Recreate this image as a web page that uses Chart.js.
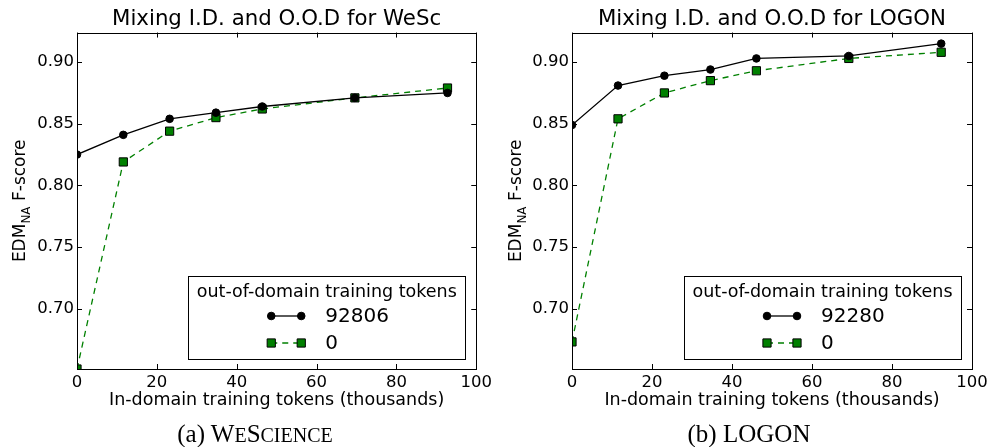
<!DOCTYPE html>
<html>
<head>
<meta charset="utf-8">
<script src="https://cdn.jsdelivr.net/npm/chart.js@4.4.1/dist/chart.umd.min.js"></script>
<style>
  body { margin: 0; background: #fff; }
  #wrap { position: relative; width: 992px; height: 447px; overflow: hidden; }
  canvas { position: absolute; top: 0; }
  .caption {
    position: absolute; top: 419px; width: 300px; text-align: center;
    font-family: "Liberation Serif", serif; font-size: 25px;
    color: #000; line-height: 30px;
  }
  .sc { text-transform: uppercase; font-size: 0.8em; }
</style>
</head>
<body>
<div id="wrap">
  <canvas id="wesc" width="496" height="447" style="left:0"></canvas>
  <canvas id="logon" width="496" height="447" style="left:496px"></canvas>
  <div class="caption" style="left:105px">(a) W<span class="sc">e</span>S<span class="sc">cience</span></div>
  <div class="caption" style="left:599px">(b) LOGON</div>
</div>
<script>
// --- Data ---
const xTicks = [0, 20, 40, 60, 80, 100];
const yTicks = [0.70, 0.75, 0.80, 0.85, 0.90];

// in-domain training tokens (thousands)
const wescTokens = [0, 11.6, 23.2, 34.8, 46.4, 69.6, 92.8];
const wescMixed = [0.825, 0.841, 0.854, 0.859, 0.864, 0.871, 0.875];   // + 92806 OOD tokens
const wescInOnly = [0.651, 0.819, 0.844, 0.855, 0.862, 0.871, 0.879];  // + 0 OOD tokens

const logonTokens = [0, 11.5, 23.1, 34.6, 46.1, 69.2, 92.3];
const logonMixed = [0.849, 0.881, 0.889, 0.894, 0.903, 0.905, 0.915];  // + 92280 OOD tokens
const logonInOnly = [0.673, 0.854, 0.875, 0.885, 0.893, 0.903, 0.908]; // + 0 OOD tokens

const FONT = '"DejaVu Sans", sans-serif';

// axes frame + inward ticks on all four sides (matplotlib look)
const framePlugin = {
    id: 'frame',
    afterDatasetsDraw(chart) {
        const { ctx, chartArea: ca, scales } = chart;
        ctx.save();
        ctx.strokeStyle = '#000';
        ctx.lineWidth = 1;
        ctx.beginPath();
        xTicks.forEach(v => {
            const px = Math.round(scales.x.getPixelForValue(v)) + 0.5;
            ctx.moveTo(px, ca.bottom); ctx.lineTo(px, ca.bottom - 5);
            ctx.moveTo(px, ca.top); ctx.lineTo(px, ca.top + 5);
        });
        yTicks.forEach(v => {
            const py = Math.round(scales.y.getPixelForValue(v)) + 0.5;
            ctx.moveTo(ca.left, py); ctx.lineTo(ca.left + 5, py);
            ctx.moveTo(ca.right, py); ctx.lineTo(ca.right - 5, py);
        });
        ctx.stroke();
        ctx.strokeRect(Math.round(ca.left) + 0.5, Math.round(ca.top) + 0.5,
            Math.round(ca.right - ca.left), Math.round(ca.bottom - ca.top));
        ctx.restore();
    }
};

// y label with subscript: EDM_NA F-score
const yLabelPlugin = {
    id: 'ylabel',
    afterDraw(chart) {
        const { ctx, chartArea: ca } = chart;
        const parts = [['EDM', 17, 0], ['NA', 12, 5], ['\u00a0F-score', 17, 0]];
        ctx.save();
        ctx.fillStyle = '#000';
        ctx.textBaseline = 'alphabetic';
        let total = 0;
        parts.forEach(p => { ctx.font = p[1] + 'px ' + FONT; total += ctx.measureText(p[0]).width; });
        ctx.translate(25, (ca.top + ca.bottom) / 2);
        ctx.rotate(-Math.PI / 2);
        let x = -total / 2;
        parts.forEach(p => {
            ctx.font = p[1] + 'px ' + FONT;
            ctx.fillText(p[0], x, p[2]);
            x += ctx.measureText(p[0]).width;
        });
        ctx.restore();
    }
};

// boxed legend in lower right, with title
const legendPlugin = {
    id: 'boxLegend',
    afterDraw(chart, args, opts) {
        const { ctx, chartArea: ca } = chart;
        const w = 277, h = 83;
        const left = ca.right - 11 - w, top = ca.bottom - 10 - h;
        ctx.save();
        ctx.fillStyle = '#fff';
        ctx.fillRect(left, top, w, h);
        ctx.strokeStyle = '#000';
        ctx.lineWidth = 1;
        ctx.strokeRect(Math.round(left) + 0.5, Math.round(top) + 0.5, w, h);
        ctx.fillStyle = '#000';
        ctx.font = '17.5px ' + FONT;
        ctx.textAlign = 'center';
        ctx.textBaseline = 'middle';
        ctx.fillText(opts.title, left + w / 2, top + 16);
        chart.data.datasets.forEach((ds, i) => {
            const y = top + 40 + i * 27;
            const x0 = left + 83, x1 = left + 113;
            ctx.strokeStyle = ds.borderColor;
            ctx.lineWidth = ds.borderWidth;
            ctx.setLineDash(ds.borderDash || []);
            ctx.beginPath();
            ctx.moveTo(x0, y); ctx.lineTo(x1, y);
            ctx.stroke();
            ctx.setLineDash([]);
            [x0, x1].forEach(mx => {
                ctx.fillStyle = ds.pointBackgroundColor;
                ctx.strokeStyle = ds.pointBorderColor;
                ctx.lineWidth = 1;
                ctx.beginPath();
                if (ds.pointStyle === 'rect') {
                    const s = ds.pointRadius * Math.SQRT1_2;
                    ctx.rect(mx - s, y - s, 2 * s, 2 * s);
                } else {
                    ctx.arc(mx, y, ds.pointRadius, 0, Math.PI * 2);
                }
                ctx.fill();
                ctx.stroke();
            });
            ctx.fillStyle = '#000';
            ctx.font = '20px ' + FONT;
            ctx.textAlign = 'left';
            ctx.fillText(ds.label, left + 137, y + 1);
        });
        ctx.restore();
    }
};

function makeChart(id, title, tokens, mixed, inOnly, labels, areaLeft, areaRight) {
    const ctx = document.getElementById(id).getContext('2d');
    return new Chart(ctx, {
        type: 'line',
        data: {
            datasets: [{
                label: labels[0],
                data: tokens.map((t, i) => ({ x: t, y: mixed[i] })),
                borderColor: '#000',
                borderWidth: 1.3,
                pointStyle: 'circle',
                pointRadius: 3.8,
                pointBackgroundColor: '#000',
                pointBorderColor: '#000',
                pointBorderWidth: 1,
                tension: 0,
                clip: 0
            }, {
                label: labels[1],
                data: tokens.map((t, i) => ({ x: t, y: inOnly[i] })),
                borderColor: '#008000',
                borderWidth: 1.3,
                borderDash: [6, 5],
                pointStyle: 'rect',
                pointRadius: 5.8,
                pointBackgroundColor: '#008000',
                pointBorderColor: '#000',
                pointBorderWidth: 1,
                tension: 0,
                clip: 0
            }]
        },
        options: {
            responsive: false,
            animation: false,
            devicePixelRatio: 1,
            layout: { padding: { left: 0, top: 0, right: 496 - areaRight, bottom: 0 } },
            plugins: {
                legend: { display: false },
                tooltip: { enabled: false },
                title: {
                    display: true,
                    text: title,
                    fullSize: false,
                    color: '#000',
                    font: { family: FONT, size: 21.3, weight: 'normal' },
                    padding: { top: 7, bottom: 0 }
                },
                boxLegend: { title: 'out-of-domain training tokens' }
            },
            scales: {
                x: {
                    type: 'linear',
                    min: 0,
                    max: 100,
                    afterBuildTicks: s => { s.ticks = xTicks.map(v => ({ value: v })); },
                    afterFit: s => { s.height = 447 - 369; },
                    grid: { display: false, drawTicks: false, tickLength: 0 },
                    border: { display: false },
                    ticks: { color: '#000', font: { family: FONT, size: 16.5 }, padding: 4, maxRotation: 0, autoSkip: false },
                    title: {
                        display: true,
                        text: 'In-domain training tokens (thousands)',
                        color: '#000',
                        font: { family: FONT, size: 17.5 },
                        padding: { top: 0, bottom: 36 }
                    }
                },
                y: {
                    type: 'linear',
                    min: 0.651,
                    max: 0.924,
                    afterBuildTicks: s => { s.ticks = yTicks.map(v => ({ value: v })); },
                    afterFit: s => { s.width = areaLeft; },
                    grid: { display: false, drawTicks: false, tickLength: 0 },
                    border: { display: false },
                    ticks: { color: '#000', font: { family: FONT, size: 16.5 }, padding: 3, callback: v => v.toFixed(2) }
                }
            }
        },
        plugins: [framePlugin, yLabelPlugin, legendPlugin]
    });
}

makeChart('wesc', 'Mixing I.D. and O.O.D for WeSc', wescTokens, wescMixed, wescInOnly, ['92806', '0'], 77, 478);
makeChart('logon', 'Mixing I.D. and O.O.D for LOGON', logonTokens, logonMixed, logonInOnly, ['92280', '0'], 76, 476);
</script>
</body>
</html>
